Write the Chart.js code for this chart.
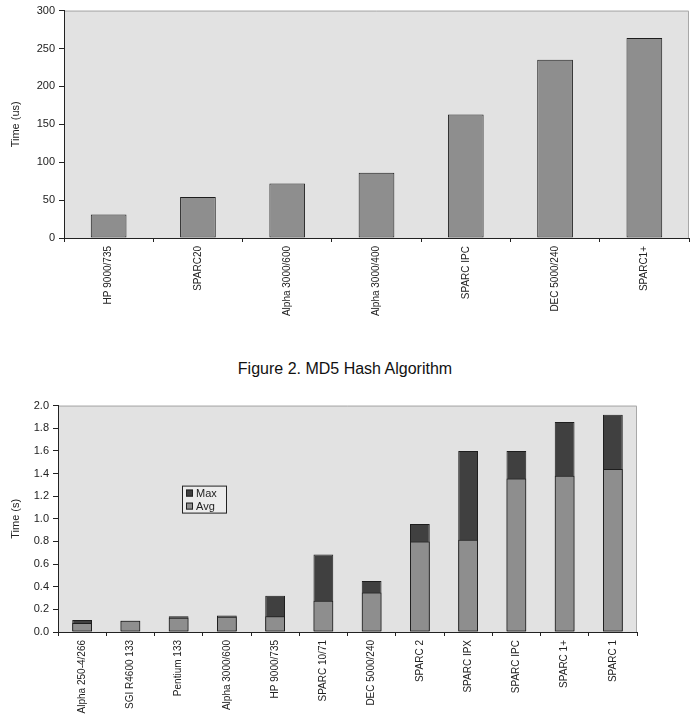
<!DOCTYPE html>
<html>
<head>
<meta charset="utf-8">
<script src="https://cdn.jsdelivr.net/npm/chart.js@4/dist/chart.umd.min.js"></script>
<style>
    body { margin: 0; background: #fff; }
    #page { position: relative; width: 690px; height: 716px; }
    #md5Chart { position: absolute; left: 0; top: 0; }
    #caption {
        position: absolute; left: 0; top: 360px; width: 690px;
        text-align: center; font: 16px "Liberation Sans", Arial, sans-serif; color: #111;
    }
    #hashChart { position: absolute; left: 0; top: 395px; }
</style>
</head>
<body>
<div id="page">
    <canvas id="md5Chart" width="690" height="350"></canvas>
    <div id="caption">Figure 2. MD5 Hash Algorithm</div>
    <canvas id="hashChart" width="690" height="321"></canvas>
</div>
<script>
// Top chart: MD5 time per machine (us)
const md5Machines = ['HP 9000/735', 'SPARC20', 'Alpha 3000/600', 'Alpha 3000/400', 'SPARC IPC', 'DEC 5000/240', 'SPARC1+'];
const md5Times = [31, 54, 72, 86, 163, 235, 264];

// Bottom chart: hash times (s)
const hashMachines = ['Alpha 250-4/266', 'SGI R4600 133', 'Pentium 133', 'Alpha 3000/600', 'HP 9000/735', 'SPARC 10/71',
    'DEC 5000/240', 'SPARC 2', 'SPARC IPX', 'SPARC IPC', 'SPARC 1+', 'SPARC 1'];
const hashMax = [0.105, 0.10, 0.14, 0.145, 0.32, 0.685, 0.45, 0.955, 1.60, 1.60, 1.855, 1.92];
const hashAvg = [0.08, 0.10, 0.125, 0.135, 0.14, 0.275, 0.35, 0.80, 0.815, 1.355, 1.38, 1.44];

const FONT = '"Liberation Sans", Arial, sans-serif';
Chart.defaults.font.family = FONT;
Chart.defaults.font.size = 11;
Chart.defaults.color = '#222';

// plot area background + light frame on top/right
const plotBg = {
    id: 'plotBg',
    beforeDraw(chart) {
        const { ctx, chartArea: a } = chart;
        ctx.save();
        ctx.fillStyle = '#e2e2e2';
        ctx.fillRect(a.left, a.top, a.right - a.left, a.bottom - a.top);
        ctx.strokeStyle = '#a8a8a8';
        ctx.lineWidth = 1;
        ctx.beginPath();
        ctx.moveTo(a.left, a.top + 0.5);
        ctx.lineTo(a.right - 0.5, a.top + 0.5);
        ctx.lineTo(a.right - 0.5, a.bottom);
        ctx.stroke();
        ctx.restore();
    }
};

// small boxed legend inside the plot
const boxLegend = {
    id: 'boxLegend',
    afterDraw(chart) {
        const { ctx, chartArea: a } = chart;
        const x = a.left + 124, y = a.top + 80;
        ctx.save();
        ctx.fillStyle = '#ececec';
        ctx.fillRect(x, y, 44, 27);
        ctx.strokeStyle = '#222';
        ctx.lineWidth = 1;
        ctx.strokeRect(x + 0.5, y + 0.5, 44, 27);
        const items = [chart.data.datasets[1], chart.data.datasets[0]];
        ctx.font = '11px ' + FONT;
        ctx.textBaseline = 'middle';
        items.forEach((ds, i) => {
            const cy = y + 7 + i * 13;
            ctx.fillStyle = ds.backgroundColor;
            ctx.fillRect(x + 4, cy - 3, 7, 7);
            ctx.strokeStyle = '#222';
            ctx.strokeRect(x + 4.5, cy - 2.5, 6, 6);
            ctx.fillStyle = '#222';
            ctx.fillText(ds.label, x + 14, cy + 1);
        });
        ctx.restore();
    }
};

function xAxis(height) {
    return {
        ticks: { minRotation: 90, maxRotation: 90, autoSkip: false, padding: 4, color: '#222',
                 font: { size: 10 } },
        grid: { display: true, drawOnChartArea: false, tickLength: 4, color: '#222', offset: true },
        border: { color: '#222', width: 1 },
        afterFit(scale) { scale.height = height; }
    };
}

function yAxis(title, width, extra) {
    return Object.assign({
        beginAtZero: true,
        title: { display: true, text: title, font: { size: 11 }, color: '#222',
                 padding: { top: 9, bottom: 4 } },
        grid: { display: true, drawOnChartArea: false, tickLength: 5, color: '#222' },
        border: { color: '#222', width: 1 },
        afterFit(scale) { scale.width = width; }
    }, extra);
}

new Chart(document.getElementById('md5Chart'), {
    type: 'bar',
    data: {
        labels: md5Machines,
        datasets: [{
            label: 'Time (us)',
            data: md5Times,
            backgroundColor: '#8e8e8e',
            borderColor: '#1e1e1e',
            borderWidth: 1,
            borderSkipped: false,
            categoryPercentage: 1,
            barPercentage: 0.4
        }]
    },
    options: {
        responsive: false,
        animation: false,
        layout: { padding: { top: 8, right: 1, left: 0, bottom: 0 } },
        plugins: { legend: { display: false }, tooltip: { enabled: false } },
        scales: {
            x: xAxis(112),
            y: yAxis('Time (us)', 64, {
                min: 0, max: 300,
                ticks: { stepSize: 50, padding: 4, color: '#222' }
            })
        }
    },
    plugins: [plotBg]
});

new Chart(document.getElementById('hashChart'), {
    type: 'bar',
    data: {
        labels: hashMachines,
        datasets: [
            {
                label: 'Avg',
                data: hashAvg,
                backgroundColor: '#8e8e8e',
                borderColor: '#1e1e1e',
                borderWidth: 1,
                borderSkipped: false,
                categoryPercentage: 1,
                barPercentage: 0.41
            },
            {
                label: 'Max',
                data: hashMax,
                backgroundColor: '#404040',
                borderColor: '#1e1e1e',
                borderWidth: 1,
                borderSkipped: false,
                categoryPercentage: 1,
                barPercentage: 0.41
            }
        ]
    },
    options: {
        responsive: false,
        animation: false,
        layout: { padding: { top: 10, right: 53, left: 0, bottom: 0 } },
        plugins: { legend: { display: false }, tooltip: { enabled: false } },
        scales: {
            x: Object.assign(xAxis(84), { stacked: true }),
            y: yAxis('Time (s)', 58, {
                stacked: false,
                min: 0, max: 2,
                ticks: { stepSize: 0.2, padding: 4, color: '#222', callback: v => v.toFixed(1) }
            })
        }
    },
    plugins: [plotBg, boxLegend]
});
</script>
</body>
</html>
